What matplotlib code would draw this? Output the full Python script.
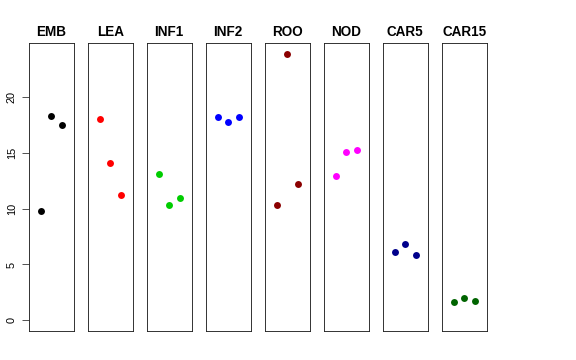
import numpy as np
import matplotlib
matplotlib.use("Agg")
import matplotlib.pyplot as plt

plt.rcParams['font.family'] = ['Liberation Sans', 'DejaVu Sans']

# -------------------------------
# data
# -------------------------------
groups = ["EMB", "LEA", "INF1", "INF2", "ROO", "NOD", "CAR5", "CAR15"]
colors = ["black", "red", "#00CD00", "blue", "#8B0000", "magenta", "#00008B", "#006400"]
reps = [1, 2, 3]

emb = [9.75, 18.33, 17.5]
lea = [18.03, 14.07, 11.24]
inf1 = [13.11, 10.31, 10.91]
inf2 = [18.21, 17.74, 18.21]
roo = [10.29, 23.85, 12.22]
nod = [12.94, 15.08, 15.23]
car5 = [6.08, 6.80, 5.87]
car15 = [1.66, 1.99, 1.70]
values = [emb, lea, inf1, inf2, roo, nod, car5, car15]

yticks = [0, 5, 10, 15, 20]

# -------------------------------
# layout (pixels of a 576x360 canvas)
# -------------------------------
W, H = 576, 360
fig = plt.figure(figsize=(W / 72, H / 72), dpi=72)

left0, pw, step = 28.7, 45.0, 59.0
top, bottom = 43.3, 331.0

ymax = max(max(v) for v in values)
pad = 0.04 * ymax

for i, (name, col, vals) in enumerate(zip(groups, colors, values)):
    x0 = left0 + i * step
    ax = fig.add_axes([x0 / W, (H - bottom) / H, pw / W, (bottom - top) / H])
    ax.scatter(reps, vals, s=48, color=col, zorder=3, linewidths=0)
    ax.set_xlim(-0.16, 4.16)
    ax.set_ylim(-pad, ymax + pad)
    ax.set_xticks([])
    ax.set_title(name, fontsize=13.5, fontweight="bold", pad=7.5)
    for sp in ax.spines.values():
        sp.set_linewidth(0.9)
        sp.set_color("#222222")
    if i == 0:
        ax.set_yticks(yticks)
        ax.set_yticklabels([str(t) for t in yticks], rotation=90, va="center", fontsize=11)
        ax.tick_params(axis="y", length=7, width=0.9, color="#444444", pad=5)
    else:
        ax.set_yticks([])

fig.savefig("out.png", dpi=72)
